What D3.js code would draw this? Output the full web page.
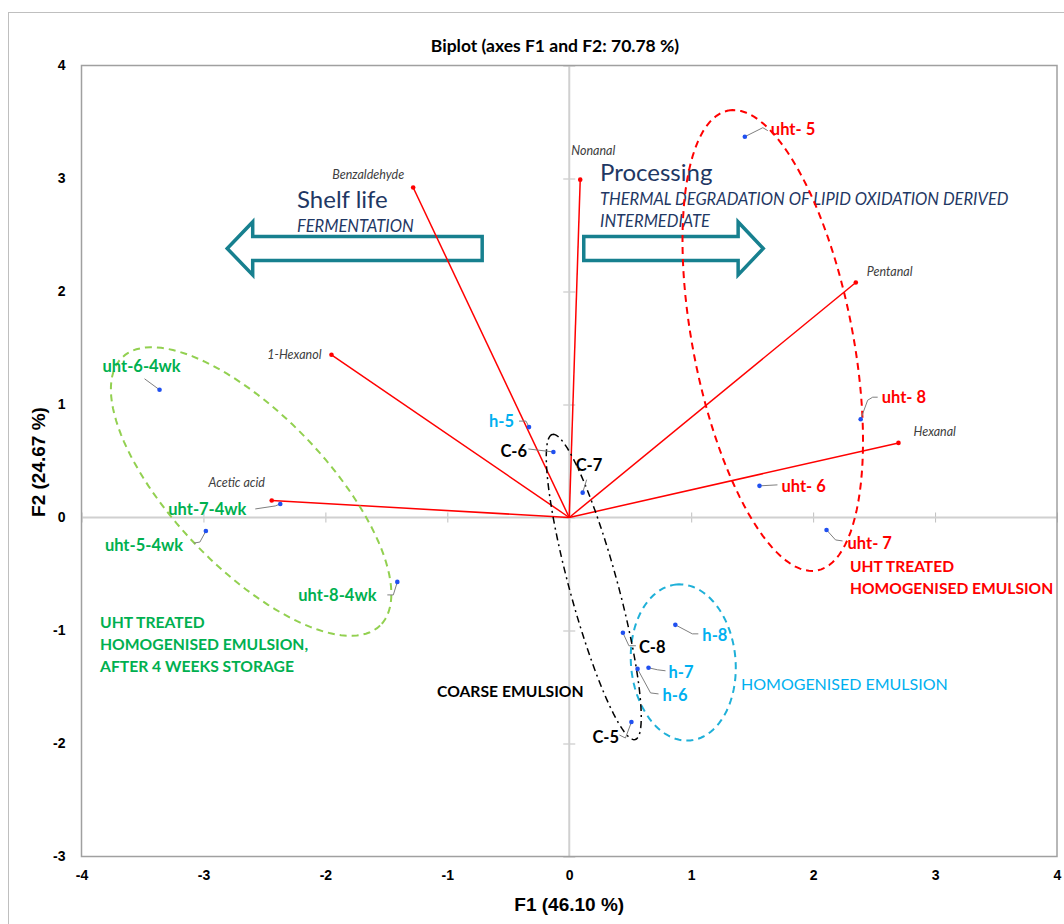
<!DOCTYPE html>
<html>
<head>
<meta charset="utf-8">
<script src="https://cdn.jsdelivr.net/npm/d3@7"></script>
<style>
  body { margin: 0; background: #fff; }
  svg { display: block; }
</style>
</head>
<body>
<div id="chart"></div>
<script>
// active variables (red vectors)
const varNames = ['Benzaldehyde', 'Nonanal', 'Pentanal', 'Hexanal', '1-Hexanol', 'Acetic acid'];
const varF1 = [-1.28, 0.09, 2.35, 2.70, -1.95, -2.44];
const varF2 = [2.92, 2.99, 2.08, 0.66, 1.44, 0.15];

// observations (blue points)
const obsNames = ['uht- 5', 'uht- 8', 'uht- 6', 'uht- 7',
                  'uht-6-4wk', 'uht-7-4wk', 'uht-5-4wk', 'uht-8-4wk',
                  'h-5', 'C-6', 'C-7', 'C-8', 'h-8', 'h-7', 'h-6', 'C-5'];
const obsF1 = [1.44, 2.39, 1.56, 2.11, -3.36, -2.37, -2.98, -1.41,
               -0.33, -0.13, 0.11, 0.44, 0.87, 0.65, 0.56, 0.51];
const obsF2 = [3.37, 0.87, 0.28, -0.11, 1.13, 0.12, -0.12, -0.57,
               0.80, 0.58, 0.22, -1.02, -0.95, -1.33, -1.34, -1.81];
const obsGroup = ['uht', 'uht', 'uht', 'uht', 'wk', 'wk', 'wk', 'wk',
                  'h', 'c', 'c', 'c', 'h', 'h', 'h', 'c'];

// group ellipses: centre, major and minor half-axes (data units)
const ellipseGroups = ['uht', 'wk', 'h', 'c'];
const ellipseCentre = [[1.669, 1.566], [-2.609, 0.230], [0.935, -1.283], [0.201, -0.615]];
const ellipseMajor = [[-0.365, 2.035], [1.058, -1.186], [-0.057, 0.690], [-0.340, 1.350]];
const ellipseMinor = [[0.644, 0.135], [-0.451, -0.473], [0.427, 0.044], [0.190, 0.056]];

const xTicks = [-4, -3, -2, -1, 0, 1, 2, 3, 4];
const yTicks = [-3, -2, -1, 0, 1, 2, 3, 4];

const W = 1064, H = 924;
const colors = { uht: '#ff0000', wk: '#00b050', h: '#00b0f0', c: '#000000' };

const svg = d3.select('#chart').append('svg')
  .attr('width', W).attr('height', H)
  .style('font-family', 'Lato, "Open Sans", sans-serif');

// outer chart border
svg.append('rect')
  .attr('x', 8.5).attr('y', 12.5)
  .attr('width', 1200).attr('height', 1000)
  .attr('fill', 'none').attr('stroke', '#bfbfbf');

const x = d3.scaleLinear().domain([-4, 4]).range([81.5, 1057]);
const y = d3.scaleLinear().domain([-3, 4]).range([856.5, 65.5]);

// zero axes with crossing ticks
svg.append('g')
  .attr('transform', `translate(0, ${y(0) - 5})`)
  .call(d3.axisBottom(x).tickValues(xTicks).tickSize(10).tickFormat(''))
  .call(g => g.select('.domain').remove())
  .call(g => g.selectAll('line').attr('stroke', '#bfbfbf'));
svg.append('g')
  .attr('transform', `translate(${x(0) + 6}, 0)`)
  .call(d3.axisLeft(y).tickValues(yTicks).tickSize(12).tickFormat(''))
  .call(g => g.select('.domain').remove())
  .call(g => g.selectAll('line').attr('stroke', '#bfbfbf'));
svg.append('line')
  .attr('x1', x(-4)).attr('x2', x(4)).attr('y1', y(0)).attr('y2', y(0))
  .attr('stroke', '#d0d0d0').attr('stroke-width', 2);
svg.append('line')
  .attr('x1', x(0)).attr('x2', x(0)).attr('y1', y(-3)).attr('y2', y(4))
  .attr('stroke', '#d0d0d0').attr('stroke-width', 2);

// plot frame
svg.append('rect')
  .attr('x', x(-4)).attr('y', y(4))
  .attr('width', x(4) - x(-4)).attr('height', y(-3) - y(4))
  .attr('fill', 'none').attr('stroke', '#a0a0a0').attr('stroke-width', 1.5);

// tick labels
const fmt = d => String(d);
svg.append('g')
  .attr('transform', `translate(${x(-4) - 16}, 0)`)
  .call(d3.axisLeft(y).tickValues(yTicks).tickSize(0).tickPadding(0).tickFormat(fmt))
  .call(g => g.select('.domain').remove())
  .call(g => g.selectAll('text')
    .attr('font-family', '"Liberation Sans", Arial, sans-serif')
    .attr('font-size', 14).attr('font-weight', 'bold').attr('fill', '#000'));
svg.append('g')
  .attr('transform', `translate(0, ${y(-3) + 14})`)
  .call(d3.axisBottom(x).tickValues(xTicks).tickSize(0).tickPadding(0).tickFormat(fmt))
  .call(g => g.select('.domain').remove())
  .call(g => g.selectAll('text')
    .attr('font-family', '"Liberation Sans", Arial, sans-serif')
    .attr('font-size', 14).attr('font-weight', 'bold').attr('fill', '#000'));

// titles
svg.append('text')
  .attr('x', 555).attr('y', 46).attr('dy', '0.35em')
  .attr('text-anchor', 'middle').attr('font-size', 17.5).attr('font-weight', 'bold')
  .text('Biplot (axes F1 and F2: 70.78 %)');
svg.append('text')
  .attr('x', x(0)).attr('y', 904).attr('dy', '0.35em')
  .attr('text-anchor', 'middle').attr('font-size', 19).attr('font-weight', 'bold')
  .attr('font-family', '"Liberation Sans", Arial, sans-serif')
  .text('F1 (46.10 %)');
svg.append('text')
  .attr('transform', 'translate(38, 462) rotate(-90)').attr('dy', '0.35em')
  .attr('text-anchor', 'middle').attr('font-size', 19).attr('font-weight', 'bold')
  .attr('font-family', '"Liberation Sans", Arial, sans-serif')
  .text('F2 (24.67 %)');

// block arrows (shelf life / processing)
const arrowTeal = '#17808f';
function blockArrow(xTail, xBase, xTip, yc) {
  const t = x(xTail), b = x(xBase), p = x(xTip), c = y(yc);
  const sh = 12, hh = 26.5;
  return `M${t},${c - sh}L${b},${c - sh}L${b},${c - hh}L${p},${c}` +
         `L${b},${c + hh}L${b},${c + sh}L${t},${c + sh}Z`;
}
svg.append('path').attr('d', blockArrow(-0.714, -2.596, -2.805, 2.381))
  .attr('fill', '#fff').attr('stroke', arrowTeal).attr('stroke-width', 3.5);
svg.append('path').attr('d', blockArrow(0.119, 1.385, 1.591, 2.381))
  .attr('fill', '#fff').attr('stroke', arrowTeal).attr('stroke-width', 3.5);

const navy = '#1f3864';
svg.append('text').attr('x', 297).attr('y', 200).attr('dy', '0.35em')
  .attr('font-size', 24).attr('fill', navy).text('Shelf life');
svg.append('text').attr('x', 297).attr('y', 226).attr('dy', '0.35em')
  .attr('font-size', 16.5).attr('font-style', 'italic').attr('fill', navy).text('FERMENTATION');
svg.append('text').attr('x', 600).attr('y', 173).attr('dy', '0.35em')
  .attr('font-size', 24).attr('fill', navy).text('Processing');
svg.append('text').attr('x', 600).attr('y', 199).attr('dy', '0.35em')
  .attr('font-size', 16.5).attr('font-style', 'italic').attr('fill', navy)
  .text('THERMAL DEGRADATION OF LIPID OXIDATION DERIVED');
svg.append('text').attr('x', 600).attr('y', 221).attr('dy', '0.35em')
  .attr('font-size', 16.5).attr('font-style', 'italic').attr('fill', navy)
  .text('INTERMEDIATE');

// variable vectors
const vars = varNames.map((n, i) => ({ name: n, f1: varF1[i], f2: varF2[i] }));
svg.selectAll('line.vec').data(vars).enter().append('line')
  .attr('class', 'vec')
  .attr('x1', x(0)).attr('y1', y(0))
  .attr('x2', d => x(d.f1)).attr('y2', d => y(d.f2))
  .attr('stroke', '#ff0000').attr('stroke-width', 1.5);
svg.selectAll('circle.vec').data(vars).enter().append('circle')
  .attr('class', 'vec')
  .attr('cx', d => x(d.f1)).attr('cy', d => y(d.f2)).attr('r', 2.3)
  .attr('fill', '#ff0000');

const varLabelPos = [[-9, -13, 'end'], [-9, -29, 'start'], [11, -11, 'start'],
                     [15, -11, 'start'], [-10, 0, 'end'], [-35, -18, 'middle']];
svg.selectAll('text.vec').data(vars).enter().append('text')
  .attr('class', 'vec')
  .attr('x', (d, i) => x(d.f1) + varLabelPos[i][0])
  .attr('y', (d, i) => y(d.f2) + varLabelPos[i][1])
  .attr('dy', '0.35em')
  .attr('text-anchor', (d, i) => varLabelPos[i][2])
  .attr('font-size', 12.5).attr('font-style', 'italic').attr('fill', '#404040')
  .text(d => d.name);

// ellipses
const ellipseStyle = {
  uht: { stroke: '#ff0000', dash: '7,5', width: 2 },
  wk: { stroke: '#92d050', dash: '7,5', width: 2 },
  h: { stroke: '#1fb0d8', dash: '7,5', width: 2 },
  c: { stroke: '#000000', dash: '7,4,2,4', width: 1.5 }
};
const line = d3.line();
ellipseGroups.forEach((g, i) => {
  const [cx, cy] = ellipseCentre[i], [ux, uy] = ellipseMajor[i], [vx, vy] = ellipseMinor[i];
  const pts = d3.range(0, 361, 3).map(a => {
    const t = a * Math.PI / 180;
    return [x(cx + ux * Math.cos(t) + vx * Math.sin(t)),
            y(cy + uy * Math.cos(t) + vy * Math.sin(t))];
  });
  svg.append('path').attr('d', line(pts))
    .attr('fill', 'none')
    .attr('stroke', ellipseStyle[g].stroke)
    .attr('stroke-width', ellipseStyle[g].width)
    .attr('stroke-dasharray', ellipseStyle[g].dash);
});

// observation labels: text offset and leader points relative to the dot
const obsLabel = [
  { dx: 26, dy: -7, lead: [[18, -9], [23, -6]] },
  { dx: 21, dy: -22, lead: [[7, -19], [12, -22], [17, -22]] },
  { dx: 22, dy: 0, lead: [[18, -1]] },
  { dx: 21, dy: 13, lead: [[9, 10], [16, 11]] },
  { dx: -57, dy: -24, lead: [[-15, -11]] },
  { dx: -112, dy: 5, lead: [[-5, 2], [-25, 5]] },
  { dx: -101, dy: 14, lead: [[-6, 11], [-12, 12]] },
  { dx: -99, dy: 13, lead: [[-4, 13], [-10, 13]] },
  { dx: -40, dy: -6, lead: [[-3, -6], [-10, -6]] },
  { dx: -53, dy: -1, lead: [[-25, -3]] },
  { dx: -7, dy: -27, lead: [[4, -13]] },
  { dx: 16, dy: 14, lead: [[6, 13], [13, 13]] },
  { dx: 27, dy: 10, lead: [[17, 9], [23, 9]] },
  { dx: 20, dy: 4, lead: [[9, 2], [17, 3]] },
  { dx: 25, dy: 26, lead: [[13, 24], [21, 25]] },
  { dx: -39, dy: 15, lead: [[-6, 16], [-12, 13]] }
];
const obs = obsNames.map((n, i) => ({ name: n, f1: obsF1[i], f2: obsF2[i], g: obsGroup[i], lab: obsLabel[i] }));

svg.selectAll('path.lead').data(obs).enter().append('path')
  .attr('class', 'lead')
  .attr('d', d => {
    const px = x(d.f1), py = y(d.f2);
    return line([[px, py]].concat(d.lab.lead.map(p => [px + p[0], py + p[1]])));
  })
  .attr('fill', 'none').attr('stroke', '#7f7f7f').attr('stroke-width', 1);

svg.selectAll('circle.obs').data(obs).enter().append('circle')
  .attr('class', 'obs')
  .attr('cx', d => x(d.f1)).attr('cy', d => y(d.f2)).attr('r', 2.3)
  .attr('fill', '#2050f0');

svg.selectAll('text.obs').data(obs).enter().append('text')
  .attr('class', 'obs')
  .attr('x', d => x(d.f1) + d.lab.dx)
  .attr('y', d => y(d.f2) + d.lab.dy)
  .attr('dy', '0.35em')
  .attr('font-size', 16.5).attr('font-weight', 'bold')
  .attr('fill', d => colors[d.g])
  .text(d => d.name);

// group annotations
const notes = [
  { lines: ['UHT TREATED', 'HOMOGENISED EMULSION'], x: 850, y: 567, g: 'uht', w: 'bold', s: 15.6 },
  { lines: ['UHT TREATED', 'HOMOGENISED EMULSION,', 'AFTER 4 WEEKS STORAGE'], x: 100, y: 623, g: 'wk', w: 'bold', s: 15.7 },
  { lines: ['COARSE EMULSION'], x: 437, y: 692, g: 'c', w: 'bold', s: 15.7 },
  { lines: ['HOMOGENISED EMULSION'], x: 741, y: 684, g: 'h', w: 'normal', s: 16 }
];
notes.forEach(n => {
  n.lines.forEach((t, j) => {
    svg.append('text')
      .attr('x', n.x).attr('y', n.y + j * 22).attr('dy', '0.35em')
      .attr('font-size', n.s).attr('font-weight', n.w)
      .attr('fill', colors[n.g])
      .text(t);
  });
});
</script>
</body>
</html>
